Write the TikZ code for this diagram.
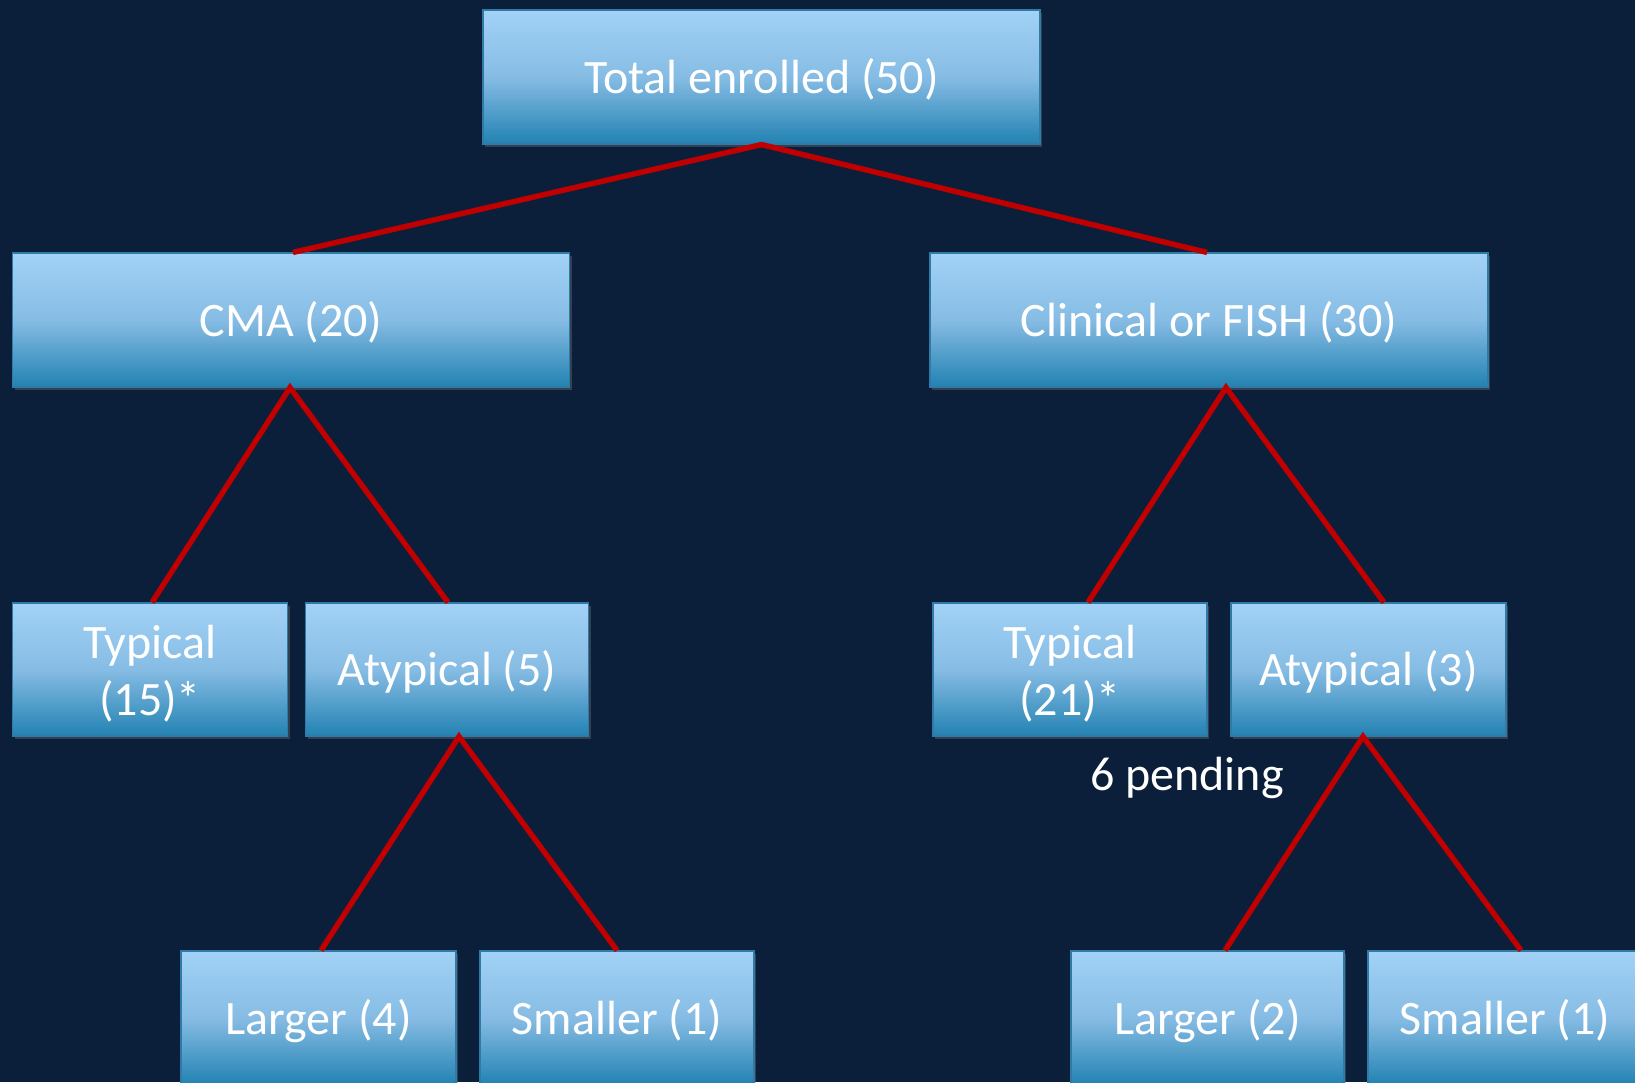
\documentclass[tikz,border=0pt]{standalone}
\usepackage{fontspec}
\setmainfont{Carlito}
\usetikzlibrary{shadows}
\definecolor{bg}{HTML}{0B1F3A}
\definecolor{boxtop}{HTML}{A2D2F6}
\definecolor{boxmid}{HTML}{86BCE4}
\definecolor{boxbot}{HTML}{2282B2}
\definecolor{boxline}{HTML}{2F7AA6}
\definecolor{linkred}{HTML}{C00000}
\begin{document}
\begin{tikzpicture}[x=1pt,y=-1pt,
  box/.style={draw=boxline, line width=1.2pt, top color=boxtop, bottom color=boxbot, middle color=boxmid,
    minimum height=134pt, inner sep=0pt, text=white, align=center,
    text height=38pt, text depth=6pt,
    font=\fontsize{48}{57}\selectfont,
    drop shadow={opacity=0.35, shadow xshift=2pt, shadow yshift=-3pt}},
  twoline/.style={text height={}, text depth={}},
  link/.style={draw=linkred, line width=5.5pt}]
\fill[bg] (0,0) rectangle (1635,1082);
\useasboundingbox (0,0) rectangle (1635,1082);
\node[box, minimum width=557pt] (total) at (761.5,77) {Total enrolled (50)};
\node[box, minimum width=557pt] (cma) at (291,320) {CMA (20)};
\node[box, minimum width=558pt] (clin) at (1209,320) {Clinical or FISH (30)};
\node[box, twoline, minimum width=275pt, minimum height=133pt] (typ15) at (150,669.5) {\rule{0pt}{42pt}Typical\\(15)*};
\node[box, minimum width=283pt, minimum height=133pt] (aty5) at (447,669.5) {Atypical (5)};
\node[box, twoline, minimum width=274pt, minimum height=133pt] (typ21) at (1070,669.5) {\rule{0pt}{42pt}Typical\\(21)*};
\node[box, minimum width=275pt, minimum height=133pt] (aty3) at (1368.5,669.5) {Atypical (3)};
\node[box, minimum width=275pt] (lar4) at (318.5,1018) {Larger (4)};
\node[box, minimum width=274pt] (sma4) at (617,1018) {Smaller (1)};
\node[box, minimum width=273pt] (lar2) at (1207.5,1018) {Larger (2)};
\node[box, minimum width=274pt] (sma2) at (1505,1018) {Smaller (1)};
\node[text=white, font=\fontsize{48}{57}\selectfont] (pend) at (1187,778) {6 pending};
\draw[link] ([xshift=2pt]cma.north) -- (total.south) -- ([xshift=-2pt]clin.north);
\draw[link] ([xshift=2pt]typ15.north) -- ([xshift=-1pt]cma.south) -- ([xshift=1pt]aty5.north);
\draw[link] ([xshift=2.5pt]lar4.north) -- ([xshift=12pt]aty5.south) -- (sma4.north);
\draw[link] ([xshift=18pt]typ21.north) -- ([xshift=17pt]clin.south) -- ([xshift=15.5pt]aty3.north);
\draw[link] ([xshift=17.5pt]lar2.north) -- ([xshift=-5.5pt]aty3.south) -- ([xshift=16pt]sma2.north);
\end{tikzpicture}
\end{document}
